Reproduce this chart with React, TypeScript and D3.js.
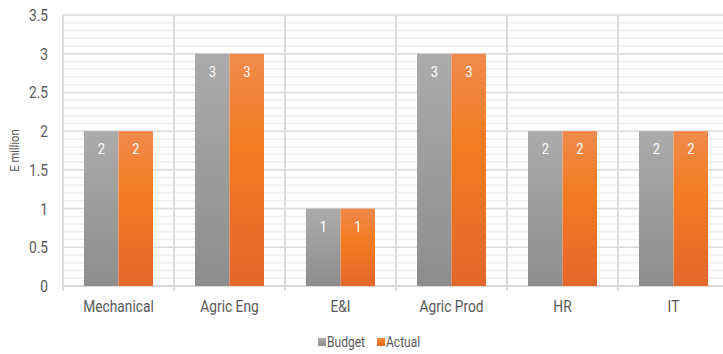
import React from "react";
import * as d3 from "d3";

const categories = ["Mechanical", "Agric Eng", "E&I", "Agric Prod", "HR", "IT"];
const budget = [2, 3, 1, 3, 2, 2];
const actual = [2, 3, 1, 3, 2, 2];
const yTicks = [0, 0.5, 1, 1.5, 2, 2.5, 3, 3.5];
const seriesNames = ["Budget", "Actual"];

const W = 723;
const H = 354;
const left = 63;
const top = 15;
const bottom = 286;
const band = 111;
const FONT = "Roboto, sans-serif";
const SQUEEZE = 0.86;

// Roboto squeezed horizontally to read as a condensed face
function CText({
  x,
  y,
  anchor = "start",
  size,
  fill,
  children,
}: {
  x: number;
  y: number;
  anchor?: "start" | "middle" | "end";
  size: number;
  fill: string;
  children: React.ReactNode;
}) {
  return (
    <text
      transform={`translate(${x},${y}) scale(${SQUEEZE},1)`}
      textAnchor={anchor}
      fill={fill}
      fontSize={size}
      fontFamily={FONT}
    >
      {children}
    </text>
  );
}

export default function App() {
  const x = d3
    .scaleBand<string>()
    .domain(categories)
    .range([left, left + band * categories.length])
    .paddingInner(0)
    .paddingOuter(0);
  const y = d3.scaleLinear().domain([0, 3.5]).range([bottom, top]);
  const barW = 34.5;
  const minor = d3.range(0, 3.5001, 0.1);

  const series = [
    { name: seriesNames[0], values: budget, fill: "url(#gBudget)" },
    { name: seriesNames[1], values: actual, fill: "url(#gActual)" },
  ];

  return (
    <svg width={W} height={H} style={{ position: "absolute", left: 0, top: 0, background: "#fff" }}>
      <defs>
        <linearGradient id="gBudget" x1="0" y1="0" x2="0" y2="1">
          <stop offset="0" stopColor="#ababab" />
          <stop offset="1" stopColor="#8d8d8d" />
        </linearGradient>
        <linearGradient id="gActual" x1="0" y1="0" x2="0" y2="1">
          <stop offset="0" stopColor="#f08a4c" />
          <stop offset="0.4" stopColor="#f47c22" />
          <stop offset="1" stopColor="#e3672b" />
        </linearGradient>
      </defs>
      {minor.map((v, i) => (
        <line key={"m" + i} x1={left} x2={W} y1={y(v)} y2={y(v)} stroke="#eeeeee" strokeWidth={1.5} />
      ))}
      {yTicks.map((v) => (
        <line key={"g" + v} x1={left} x2={W} y1={y(v)} y2={y(v)} stroke="#dcdcdc" strokeWidth={1.5} />
      ))}
      {categories.map((c) => (
        <line key={"v" + c} x1={x(c)!} x2={x(c)!} y1={top} y2={bottom + 5} stroke="#dcdcdc" strokeWidth={2} />
      ))}
      <line x1={left} x2={W} y1={bottom} y2={bottom} stroke="#d4d4d4" strokeWidth={1.5} />
      {categories.map((c, ci) =>
        series.map((s, si) => {
          const bx = x(c)! + band / 2 - barW + si * barW;
          const v = s.values[ci];
          return (
            <g key={c + s.name}>
              <rect x={bx} y={y(v)} width={barW} height={bottom - y(v)} fill={s.fill} />
              <CText x={bx + barW / 2} y={y(v) + 23} anchor="middle" size={15} fill="#ffffff">
                {v}
              </CText>
            </g>
          );
        })
      )}
      {yTicks.map((v) => (
        <CText key={"t" + v} x={48} y={y(v) + 6} anchor="end" size={16} fill="#595959">
          {v}
        </CText>
      ))}
      {categories.map((c) => (
        <CText key={"x" + c} x={x(c)! + band / 2} y={312} anchor="middle" size={16} fill="#595959">
          {c}
        </CText>
      ))}
      <text
        transform={`translate(19,${(top + bottom) / 2}) rotate(-90) scale(${SQUEEZE},1)`}
        textAnchor="middle"
        fill="#595959"
        fontSize={13}
        fontFamily={FONT}
      >
        E million
      </text>
      <rect x={318} y={338} width={8} height={8} fill="url(#gBudget)" />
      <CText x={327} y={347} size={14} fill="#595959">
        {series[0].name}
      </CText>
      <rect x={377} y={338} width={8} height={8} fill="url(#gActual)" />
      <CText x={386} y={347} size={14} fill="#595959">
        {series[1].name}
      </CText>
    </svg>
  );
}
